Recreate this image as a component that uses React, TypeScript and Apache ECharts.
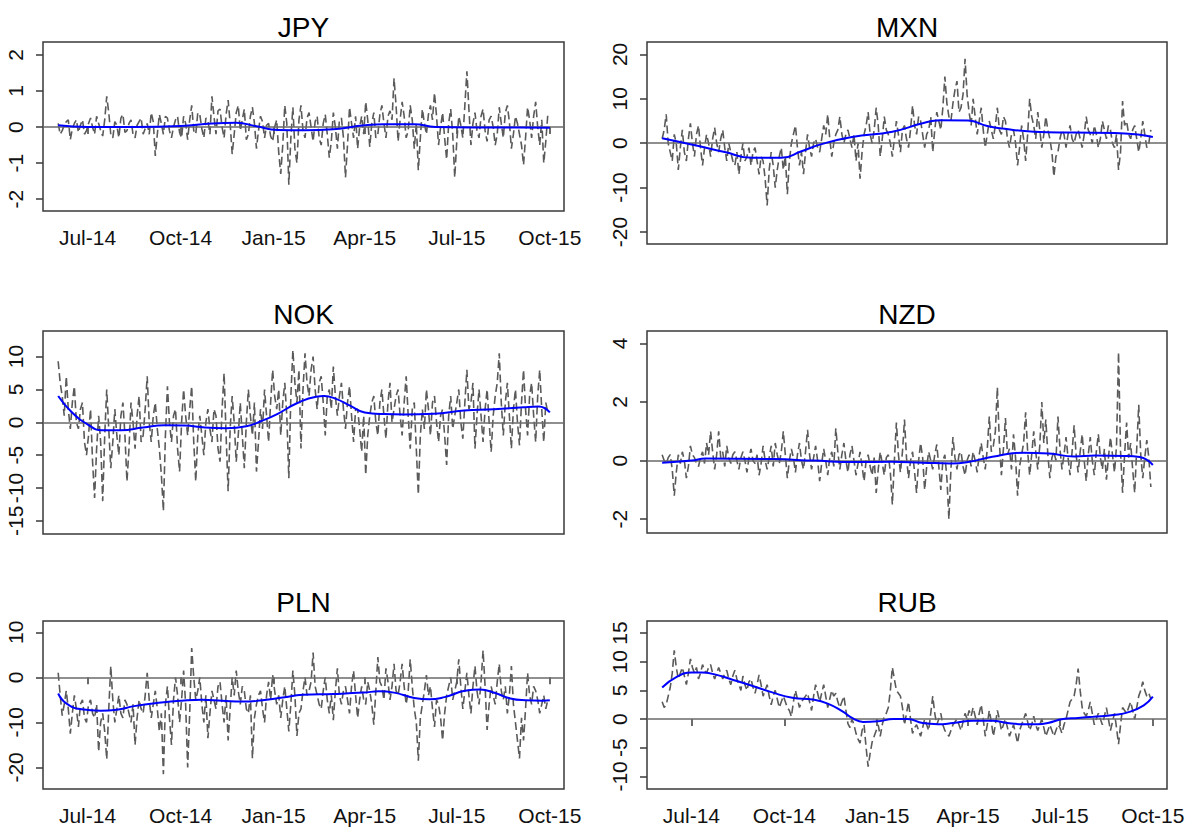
import React, { useEffect, useRef } from "react";
import * as echarts from "echarts";

// ---- Data ----
const START_DATE = "2014-06-02";
const STEP_DAYS = 2;

const X_TICKS = ["2014-07-01", "2014-10-01", "2015-01-01", "2015-04-01", "2015-07-01", "2015-10-01"];
const X_TICK_LABELS = ["Jul-14", "Oct-14", "Jan-15", "Apr-15", "Jul-15", "Oct-15"];
const X_MIN = "2014-05-18";
const X_MAX = "2015-10-15";

const JPY_VALUES = [
  0.1, -0.2, -0.1, 0.05, 0.15, 0.2, -0.35, -0.05, 0.1, 0.2,
  -0.15, 0.05, 0.2, -0.2, -0.1, 0.1, 0.25, 0.0, -0.2, 0.3,
  0.1, -0.1, -0.25, 0.2, 0.85, 0.4, -0.2, -0.3, 0.15, 0.05,
  -0.3, 0.25, 0.35, -0.15, -0.1, 0.1, 0.2, -0.2, -0.3, 0.05,
  0.15, 0.25, -0.2, -0.05, 0.1, -0.2, 0.4, 0.15, -0.8, -0.2,
  0.35, 0.1, -0.2, 0.3, 0.25, -0.1, -0.3, 0.0, 0.2, 0.3,
  -0.15, -0.3, 0.3, 0.1, -0.35, 0.2, 0.6, -0.1, -0.2, 0.4,
  0.35, -0.05, -0.3, 0.25, 0.2, -0.2, 0.85, 0.3, -0.2, 0.45,
  0.5, 0.0, -0.3, 0.35, 0.75, 0.1, -0.75, -0.2, 0.4, 0.6,
  -0.1, 0.2, 0.5, -0.35, -0.2, 0.3, 0.55, 0.1, -0.6, -0.1,
  0.3, 0.15, -0.3, 0.05, 0.1, -0.25, -0.4, 0.0, 0.2, -0.7,
  -1.3, -0.5, 0.6, 0.1, -1.6, -0.3, 0.55, -0.6, -1.0, 0.2,
  0.6, -0.1, -0.3, 0.25, 0.4, 0.0, -0.4, 0.15, 0.3, -0.3,
  -0.5, 0.1, 0.35, -0.2, -0.85, -0.4, 0.4, 0.0, -0.6, 0.2,
  0.25, -0.3, -1.4, -0.5, 0.55, 0.1, -0.3, 0.3, -0.6, 0.0,
  0.3, -0.2, 0.7, 0.2, -0.55, 0.1, 0.4, -0.3, -0.2, 0.35,
  0.6, 0.1, -0.3, 0.3, 0.45, 0.2, 1.35, 0.6, -0.4, 0.2,
  0.7, 0.3, -0.3, -0.1, 0.6, 0.2, -0.6, 0.1, -1.2, -0.3,
  0.5, 0.1, -0.2, 0.35, 0.6, 0.2, 0.95, 0.3, -0.5, 0.0,
  0.4, -0.3, -0.9, 0.1, 0.5, -0.2, -1.4, -0.4, 0.3, 0.05,
  -0.3, 0.6, 1.55, 0.5, -0.5, 0.1, 0.4, -0.1, -0.3, 0.3,
  0.5, -0.1, -0.4, 0.2, 0.3, 0.0, -0.5, -0.2, 0.55, 0.1,
  -0.3, 0.4, 0.6, 0.15, -0.6, -0.2, 0.3, 0.1, -0.2, -0.5,
  -1.05, -0.3, 0.55, 0.2, -0.3, 0.3, 0.7, 0.0, -0.5, 0.2,
  -1.0, -0.4, 0.35,
];
const JPY_TREND: [string, number][] = [
  ["2014-06-02", 0.05], ["2014-07-01", 0.0], ["2014-08-15", 0.0], ["2014-10-01", 0.03],
  ["2014-11-01", 0.1], ["2014-11-25", 0.12], ["2014-12-15", 0.02], ["2015-01-05", -0.08],
  ["2015-02-01", -0.09], ["2015-03-01", -0.06], ["2015-04-01", 0.05], ["2015-04-20", 0.08],
  ["2015-05-20", 0.08], ["2015-06-10", 0.0], ["2015-07-15", -0.01], ["2015-09-01", -0.01],
  ["2015-10-01", -0.02],
];
const JPY_Y_TICKS = [-2, -1, 0, 1, 2];

const MXN_VALUES = [
  1, 3, 6.5, 0, -2, -4, 2, 0, -6, -1,
  3, -2, -4, 1, 4.5, 0, -3, 2, 4, -1,
  -5, -1, 2, 0, -3, 1, 3.5, 0, -2, 1,
  3, -1, -4, 0, -2, -4, -5, -2, -7, -3,
  0, -4, -3, -1, -5, -2, -1, -4, -7, -3,
  -4, -8, -14, -6, -2, -5, -10, -6, -3, -1,
  -6, -3, -11.5, -4, 0, 2, 4, -1, -5, -2,
  -7, -2, 2, -1, -3, 0, 1, -1, -2, 1,
  4, 2, 6.5, 1, -3, 0, 2, 3, 6, 2,
  0, 2, 3, 1, -1, 2, -4, 0, -8, -2,
  2, 4, 7, 2, 0, 3, 8, 4, -3, 1,
  6, 3, 2, 0, -3, 1, 5, 2, -2, 3,
  4, 1, -1, 3, 8.5, 4, 2, 6, 5, 2,
  -1, 2, 3, 6, -2, 3, 7, 5, 3, 8,
  15, 9, 6, 5, 9, 12, 14, 7, 8, 11,
  19, 11, 7, 4, 10, 6, 2, 5, 8, 3,
  -1, 2, 5, 3, 1, 4, 8, 3, 2, 6,
  5, 1, -1, 2, 3, 0, -5, -1, 4, 1,
  -4, 2, 10, 6, 4, 1, 7, 3, -1, 2,
  6, 3, 1, -2, -7.5, -3, -2, 1, 3, 2,
  -1, 2, 4, 1, 0, 2, 3, 1, -1, 2,
  6, 3, 2, 0, 4, 2, -1, 1, 5, 3,
  1, 4, 3, 0, -1, 2, -6, -2, 9.5, 4,
  5, 2, 1, 3, 4, 1, -2, 1, 5, 2,
  -1, 0, 3,
];
const MXN_TREND: [string, number][] = [
  ["2014-06-02", 1.1], ["2014-07-01", -0.3], ["2014-08-03", -2.0], ["2014-08-30", -3.3],
  ["2014-09-28", -3.3], ["2014-10-18", -1.8], ["2014-11-07", -0.2], ["2014-12-07", 1.4],
  ["2015-01-16", 2.6], ["2015-02-15", 4.5], ["2015-03-04", 5.2], ["2015-04-01", 5.1],
  ["2015-04-20", 3.9], ["2015-05-05", 3.3], ["2015-06-05", 2.6], ["2015-07-15", 2.4],
  ["2015-08-24", 2.3], ["2015-09-18", 1.9], ["2015-10-01", 1.4],
];
const MXN_Y_TICKS = [-20, -10, 0, 10, 20];

const NOK_VALUES = [
  9.3, 6, 4, 1, 7, 2, -1, 3, 5.5, 0,
  -1, 2, 3, -3, -5, -2, 2, -6, -11.5, -4,
  1, -3, -12, -2, 5, -1, -7, -3, 2, -2,
  -5, 1, 3, -2, -9, -4, 3, 0, -4, 1,
  4, -3, -2, 2, 7, 0, -3, 1, 3, -1,
  -4, -8, -13.5, -2, 5.5, 0, -3, 1, 2, -4,
  -7.5, 0, 5, 1, -2, 2, 5.5, -3, -9, -2,
  1, -2, -5, 0, 2, -1, -3, 2, 1, -4,
  -6, 2, 7.5, -2, -10.5, -1, 4, 0, -6, -2,
  3, -2, -7, 0, 5, 1, -2, 3, -7.5, -3,
  2, -1, 5, 1, -3, 3, 8, 4, 2, 5,
  -2, 3, 6, 1, -8.5, 4, 11, 6, 3, 8,
  -4, 5, 10.5, 6, 4, 8, 10, 5, 2, 6,
  7, 3, -2, 4, 5, 2, 8.5, 4, 1, 4,
  6, 2, -1, 3, 5.5, 1, -3, 2, 2, -1,
  -4.5, 1, -8, -2, 1, 3, 4, 0, -2, 3,
  5, 1, -2.5, 3, 6, 0, 2, 4, 5, 1,
  -2, 3, 7, 1, -4, 2, 3, -4, -11, -2,
  2, -1, 5, 2, -2, 3, 4, 0, -3, 1,
  2, -2, -6.5, 1, 4, -1, 1, 3, 5, 0,
  -2.5, 3, 8, 2, 3, 6, -4, 1, 5, 1,
  -3, 2, 5, 0, -4.5, 1, 4, 6, 10.5, 3,
  -2, 3, 6, 1, -4, 2, 5, 0, -3.5, 3,
  8, 2, -2, 4, 6, 1, -3, 4, 8, 2,
  -3, 3, 1.5,
];
const NOK_TREND: [string, number][] = [
  ["2014-06-02", 4.0], ["2014-06-15", 1.6], ["2014-07-01", -0.3], ["2014-07-15", -1.2],
  ["2014-08-03", -1.2], ["2014-08-25", -0.8], ["2014-09-15", -0.45], ["2014-10-05", -0.5],
  ["2014-10-25", -0.8], ["2014-11-15", -0.9], ["2014-12-05", -0.6], ["2014-12-20", 0.2],
  ["2015-01-05", 1.3], ["2015-01-24", 2.9], ["2015-02-12", 3.9], ["2015-02-20", 4.0],
  ["2015-03-03", 3.6], ["2015-03-18", 2.5], ["2015-04-01", 1.5], ["2015-04-20", 1.25],
  ["2015-05-10", 1.2], ["2015-06-08", 1.3], ["2015-07-08", 1.8], ["2015-08-07", 2.0],
  ["2015-09-05", 2.3], ["2015-09-20", 2.4], ["2015-10-01", 1.5],
];
const NOK_Y_TICKS = [-15, -10, -5, 0, 5, 10];

const NZD_VALUES = [
  0.2, 0.0, -0.1, 0.1, 0.2, -0.3, -1.2, -0.4, 0.2, -0.1,
  0.3, 0.0, -0.6, -0.2, 0.5, 0.2, 0.1, -0.1, -0.2, 0.1,
  0.3, -0.1, 0.6, 0.2, 1.0, 0.3, -0.3, 0.2, 1.0, 0.1,
  0.3, -0.2, 0.5, 0.1, -0.1, 0.2, 0.3, 0.0, -0.3, 0.1,
  0.3, 0.0, -0.4, 0.1, 0.4, 0.0, -0.1, 0.2, -0.5, -0.1,
  0.5, 0.0, -0.3, 0.1, 0.5, -0.2, 0.6, 0.2, -0.1, 0.3,
  1.0, 0.2, -0.6, 0.0, 0.4, 0.1, -0.4, 0.2, 0.6, 0.0,
  -0.3, 0.3, 1.05, 0.2, -0.3, 0.1, 0.5, 0.0, -0.7, -0.1,
  0.4, 0.0, -0.5, 0.1, 0.3, -0.2, 1.1, 0.3, -0.3, 0.2,
  0.6, 0.0, -0.4, 0.2, 0.5, 0.0, -0.5, -0.1, 0.3, -0.2,
  -0.7, 0.0, 0.2, -0.2, -0.5, 0.1, -1.1, -0.3, 0.3, -0.1,
  -0.5, 0.1, 0.2, -0.4, -1.5, 0.0, 1.3, 0.2, -0.4, 0.3,
  1.4, 0.1, -0.6, 0.0, 0.3, -0.4, -1.1, 0.0, 0.6, 0.1,
  -1.0, -0.2, 0.3, 0.0, -0.3, 0.2, 0.55, -0.2, -1.0, 0.0,
  0.2, -0.6, -2.0, -0.3, 0.8, 0.1, -0.3, 0.2, 0.3, -0.2,
  -0.5, 0.0, 0.2, -0.2, 0.3, 0.0, -0.4, 0.2, 0.6, 0.1,
  -0.3, 0.4, 1.5, 0.3, 0.5, 1.0, 2.5, 0.6, -0.5, 0.4,
  1.45, 0.2, 0.4, -0.3, 0.9, 0.1, -1.2, -0.2, 0.2, 0.6,
  1.65, 0.3, -0.5, 0.2, 1.0, 0.3, -0.3, 0.5, 2.0, 0.6,
  1.4, 0.2, -0.6, 0.1, 0.3, 0.0, 1.5, 0.4, -0.3, 0.2,
  0.8, 0.1, -0.5, 0.3, 1.2, 0.2, -0.4, 0.3, 0.9, 0.0,
  -0.7, 0.2, 0.8, 0.0, -0.5, 0.3, 0.9, 0.1, -0.3, 0.4,
  -0.65, 0.1, 0.8, 0.2, -0.4, 0.5, 3.7, 0.3, -1.1, 0.2,
  1.3, 0.1, 0.6, -0.3, -1.1, 0.4, 1.9, 0.2, -0.6, 0.1,
  0.7, 0.1, -0.9,
];
const NZD_TREND: [string, number][] = [
  ["2014-06-02", -0.07], ["2014-07-01", 0.0], ["2014-07-15", 0.07], ["2014-09-20", 0.05],
  ["2014-10-30", 0.0], ["2014-12-10", -0.05], ["2015-01-15", -0.04], ["2015-02-15", -0.07],
  ["2015-03-15", -0.1], ["2015-04-01", -0.05], ["2015-04-25", 0.13], ["2015-05-25", 0.27],
  ["2015-06-20", 0.24], ["2015-07-15", 0.14], ["2015-08-05", 0.17], ["2015-09-03", 0.16],
  ["2015-09-18", 0.12], ["2015-10-01", -0.15],
];
const NZD_Y_TICKS = [-2, 0, 2, 4];

const PLN_VALUES = [
  1.0, -4, -8.5, -6, -3, -7, -12.5, -8, -4, -7,
  -11, -6, -5, -9, -10, -6, -5, -8, -9, -6,
  -16.5, -10, -8, -12, -18.2, -7, 2.5, -5, -10, -7,
  -4, -8, -9, -5, -6, -8, -10, -6, -15, -9,
  -5, -7, -8, -4, 1, -5, -9, -6, -3, -7,
  -12, -8, -21.5, -6, -2, -9, -15, -5, 0, -4,
  -10, -5, 1.5, -6, -20, -8, 6.5, 0, -5, -3,
  0, -6, -10, -4, -13.5, -8, -3, -5, -7, -2,
  -1, -6, -10, -4, -14, -7, 0, -4, 1.5, -3,
  -6, -2, -3, -7, -8, -4, -18, -9, -6, -4,
  -3, -7, -10, -4, -1, -5, 0.5, -3, -6, -4,
  -9, -5, -2, -7, -12, -6, 1.5, -4, -13, -8,
  -7, -3, 0, -4, -3, -1, 5.5, -2, -4, -6,
  -7, -3, 0, -5, -8, -4, -9.5, -3, 2, -4,
  -6, -3, -2, -5, -8, -2, 1.5, -4, -9, -5,
  -2, -5, -6, -1, -3, -6, -10.5, -3, 4.5, -1,
  -2, -5, 2, -1, -5, -2, 3, -3, -4, -1,
  3, -2, -6, -3, 4, -2, -7, -10, -18.5, -9,
  -6, -3, 0.5, -4, -2, -7, -11, -5, -6, -9,
  -14, -8, -4, -2, 0, -5, -3, -1, 4, -2,
  -7, -3, 1, -4, -8, -2, 2.5, -3, -6, -1,
  6, -2, -11.7, -6, -2, -4, -6, -1, 3, -3,
  -5, -2, -8, -4, 2.5, -6, -10, -14, -18, -9,
  -14, -7, 1, -4, -6, -2, -3, -5, -8, -6,
  -4, -7, -5,
];
const PLN_TREND: [string, number][] = [
  ["2014-06-02", -3.6], ["2014-06-10", -5.8], ["2014-06-25", -7.1], ["2014-07-14", -7.4],
  ["2014-07-30", -7.2], ["2014-08-16", -6.4], ["2014-09-12", -5.6], ["2014-10-02", -5.2],
  ["2014-10-22", -5.0], ["2014-11-11", -5.2], ["2014-12-01", -5.4], ["2014-12-21", -5.1],
  ["2015-01-10", -4.5], ["2015-01-30", -3.9], ["2015-03-01", -3.7], ["2015-03-31", -3.4],
  ["2015-04-15", -3.1], ["2015-04-30", -3.4], ["2015-05-20", -4.6], ["2015-06-04", -4.9],
  ["2015-06-19", -4.4], ["2015-07-09", -3.0], ["2015-07-24", -2.7], ["2015-08-08", -3.5],
  ["2015-08-23", -4.7], ["2015-09-07", -5.1], ["2015-09-24", -5.2], ["2015-10-01", -5.1],
];
const PLN_Y_TICKS = [-20, -10, 0, 10];

const RUB_VALUES = [
  3, 2, 2.5, 4, 5.5, 8, 12, 9, 7, 8,
  9, 7.5, 6, 8, 10.5, 9, 8, 9, 7, 8,
  9.5, 8.5, 8, 9, 9.5, 8, 7, 8, 9, 8,
  7, 8, 8.5, 7, 6, 7.5, 8.5, 7, 6, 5,
  7.5, 6, 5, 6.5, 7, 5.5, 4.5, 6, 7.7, 6,
  4, 5, 6, 4, 2.5, 4, 5, 3.5, 2, 3,
  4, 3, 2, 1.5, 0.4, 3, 5, 3.5, 2, 3,
  3.5, 4, 4.5, 3, 1.5, 4, 6, 4.5, 3, 4.5,
  6, 4, 2, 3.5, 5, 4, 4.5, 3, 2, 3,
  4, 1.5, -0.8, -1.5, 0, -1, -2.5, -3.5, -4.2, -2,
  -1, -5, -8.3, -6, -4, -3, -2, -1, -3, -1,
  0.5, 1, 2, 5, 9, 7, 5, 4.5, 4, 2,
  -1, 1, 3, 0, -2.5, -1.5, -1, -2, -3, -1.5,
  0, -1, -2, 1, 4, 1, -1, 0, 1, -1,
  -2, -2.5, -3, -2, -1, -0.5, 0, -1, -2, -0.5,
  1, 0, 1.5, 0.5, 2, 0.5, -1, 1, 2.5, 0,
  -3, -1, 1.5, -0.5, -3, -1, 1.5, 0, -2, -1,
  0, -1.5, -3, -2, -1, -2.5, -4.2, -2, -1, 0,
  1, -0.5, -2, -1, 0.5, -1, -2, -1, 0, -1.5,
  -3, -2, -1, -2, -3, -2, -1, -1.5, -2.5, -1,
  0, 1.5, 3, 3.5, 4, 6, 8.8, 5, 2, 1,
  0.5, 1.5, 3, 1, -1, 0, 1, 0, -1, 0.5,
  2, 0, -2, -0.5, 1, -1.5, -4.4, -1, 2, 1.5,
  1, 2, 3, 1.5, 0, 2, 4, 5, 6.5, 5,
  4, 4.5, 3.5,
];
const RUB_TREND: [string, number][] = [
  ["2014-06-02", 5.5], ["2014-06-16", 7.3], ["2014-07-01", 8.1], ["2014-07-11", 8.1],
  ["2014-07-26", 7.7], ["2014-08-10", 6.9], ["2014-08-30", 5.8], ["2014-09-19", 4.65],
  ["2014-10-09", 3.7], ["2014-10-29", 3.4], ["2014-11-13", 2.7], ["2014-11-28", 1.3],
  ["2014-12-08", 0.1], ["2014-12-18", -0.5], ["2015-01-02", -0.4], ["2015-01-17", 0.0],
  ["2015-01-31", 0.0], ["2015-02-15", -0.7], ["2015-03-02", -0.9], ["2015-03-17", -0.7],
  ["2015-04-06", -0.3], ["2015-04-25", -0.3], ["2015-05-10", -0.7], ["2015-05-25", -0.9],
  ["2015-06-09", -0.9], ["2015-06-19", -0.7], ["2015-07-04", 0.0], ["2015-07-19", 0.2],
  ["2015-08-03", 0.4], ["2015-08-23", 0.7], ["2015-09-07", 1.2], ["2015-09-22", 2.4],
  ["2015-10-01", 3.9],
];
const RUB_Y_TICKS = [-10, -5, 0, 5, 10, 15];

// ---- Layout ----
const FONT = "'Liberation Sans', Arial, Helvetica, sans-serif";
const DAY = 86400000;

type Panel = {
  name: string;
  values: number[];
  trend: [string, number][];
  yTicks: number[];
  yMin: number;
  yMax: number;
  grid: { left: number; top: number; width: number; height: number };
  showX: boolean;
  titleY: number;
};

const PANELS: Panel[] = [
  { name: "JPY", values: JPY_VALUES, trend: JPY_TREND, yTicks: JPY_Y_TICKS, yMin: -2.33, yMax: 2.36,
    grid: { left: 43, top: 42, width: 521, height: 169 }, showX: true, titleY: 13 },
  { name: "MXN", values: MXN_VALUES, trend: MXN_TREND, yTicks: MXN_Y_TICKS, yMin: -22.7, yMax: 22.8,
    grid: { left: 647, top: 42, width: 520, height: 202 }, showX: false, titleY: 13 },
  { name: "NOK", values: NOK_VALUES, trend: NOK_TREND, yTicks: NOK_Y_TICKS, yMin: -17.0, yMax: 13.9,
    grid: { left: 43, top: 331, width: 521, height: 203 }, showX: false, titleY: 300 },
  { name: "NZD", values: NZD_VALUES, trend: NZD_TREND, yTicks: NZD_Y_TICKS, yMin: -2.47, yMax: 4.42,
    grid: { left: 647, top: 331, width: 520, height: 202 }, showX: false, titleY: 300 },
  { name: "PLN", values: PLN_VALUES, trend: PLN_TREND, yTicks: PLN_Y_TICKS, yMin: -24.8, yMax: 12.5,
    grid: { left: 43, top: 621, width: 521, height: 168 }, showX: true, titleY: 588 },
  { name: "RUB", values: RUB_VALUES, trend: RUB_TREND, yTicks: RUB_Y_TICKS, yMin: -12.2, yMax: 17.1,
    grid: { left: 647, top: 621, width: 520, height: 168 }, showX: true, titleY: 588 },
];

function buildOption() {
  const start = Date.parse(START_DATE);
  const xTickTs = X_TICKS.map((d) => Date.parse(d));
  const grids: any[] = [];
  const xAxes: any[] = [];
  const yAxes: any[] = [];
  const series: any[] = [];
  const graphics: any[] = [];

  PANELS.forEach((p, k) => {
    grids.push({
      ...p.grid,
      show: true,
      borderColor: "#3a3a3a",
      borderWidth: 1.5,
      backgroundColor: "transparent",
      containLabel: false,
    });
    xAxes.push({
      type: "value",
      gridIndex: k,
      min: Date.parse(X_MIN),
      max: Date.parse(X_MAX),
      axisLine: { show: false },
      splitLine: { show: false },
      axisTick: {
        show: p.showX,
        customValues: xTickTs,
        length: 7,
        lineStyle: { color: "#3a3a3a", width: 1.5 },
      },
      axisLabel: {
        show: p.showX,
        customValues: xTickTs,
        margin: 16,
        fontSize: 21,
        fontFamily: FONT,
        color: "#111",
        formatter: (v: number) => {
          let best = 0;
          let bestD = Infinity;
          xTickTs.forEach((t, i) => {
            const d = Math.abs(t - v);
            if (d < bestD) { bestD = d; best = i; }
          });
          return X_TICK_LABELS[best];
        },
      },
    });
    yAxes.push({
      type: "value",
      gridIndex: k,
      min: p.yMin,
      max: p.yMax,
      axisLine: { show: false },
      splitLine: { show: false },
      axisTick: {
        show: true,
        customValues: p.yTicks,
        length: 7,
        lineStyle: { color: "#3a3a3a", width: 1.5 },
      },
      axisLabel: {
        show: true,
        customValues: p.yTicks,
        rotate: 90,
        margin: 17,
        fontSize: 21,
        fontFamily: FONT,
        color: "#111",
      },
    });
    const data = p.values.map((v, i) => [start + i * STEP_DAYS * DAY, v]);
    series.push({
      type: "line",
      name: p.name + " daily",
      xAxisIndex: k,
      yAxisIndex: k,
      data,
      symbol: "none",
      silent: true,
      lineStyle: { color: "#5a5a5a", width: 1.6, type: [8, 4] },
      z: 2,
    });
    series.push({
      type: "line",
      name: p.name + " trend",
      xAxisIndex: k,
      yAxisIndex: k,
      data: p.trend.map(([d, v]) => [Date.parse(d), v]),
      symbol: "none",
      smooth: 0.5,
      silent: true,
      lineStyle: { color: "#0000ff", width: 2 },
      z: 4,
      markLine: {
        silent: true,
        symbol: ["none", "none"],
        label: { show: false },
        lineStyle: { color: "#6a6a6a", width: 1.6, type: "solid" },
        data: [{ yAxis: 0 }],
        z: 3,
      },
    });
    graphics.push({
      type: "text",
      x: p.grid.left + p.grid.width / 2,
      y: p.titleY,
      style: {
        text: p.name,
        fontSize: 28,
        fontFamily: FONT,
        fill: "#000",
        align: "center",
        verticalAlign: "top",
        textAlign: "center",
        textVerticalAlign: "top",
      },
    });
  });

  return {
    animation: false,
    backgroundColor: "#ffffff",
    grid: grids,
    xAxis: xAxes,
    yAxis: yAxes,
    series,
    graphic: graphics,
  };
}

export default function App() {
  const ref = useRef<HTMLDivElement>(null);
  useEffect(() => {
    if (!ref.current) return;
    const chart = echarts.init(ref.current, null, { renderer: "svg" });
    chart.setOption(buildOption() as any);
    return () => chart.dispose();
  }, []);
  return (
    <div
      ref={ref}
      style={{ position: "absolute", left: 0, top: 0, width: 1198, height: 833, background: "#fff" }}
    />
  );
}
